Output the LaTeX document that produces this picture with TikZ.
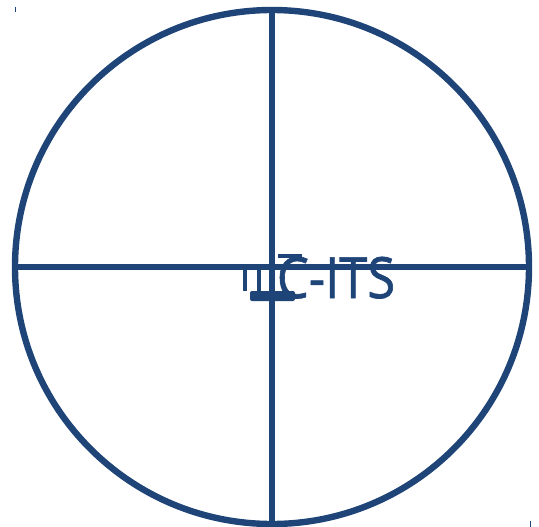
\documentclass[tikz,border=0pt]{standalone}
\usepackage{fontspec}
\setsansfont[FakeBold=1.2]{Open Sans}
\definecolor{logoblue}{RGB}{31,68,120}

\begin{document}
\begin{tikzpicture}[
    x=0.5mm, y=-0.5mm,
    font=\sffamily,
    % Style for the outer ring
    ring/.style={
        draw=logoblue,
        line width=3.2mm
    },
    % Style for the cross hairs
    hair/.style={
        draw=logoblue,
        line width=2.6mm
    },
    % Style for the small broken glyph strokes
    glyph/.style={
        draw=logoblue,
        line width=2mm
    }
]
\useasboundingbox (0,0) rectangle (539,527);

% --- Ring and cross ---
\coordinate (c) at (272,267);
\draw[ring] (c) circle [radius=257];
\coordinate (top) at (272,10);
\coordinate (bot) at (272,524);
\coordinate (lft) at (15,267);
\coordinate (rgt) at (529,267);
\draw[hair] (top) -- (bot);
\draw[hair] (lft) -- (rgt);

% --- Corner marks ---
\draw[logoblue, line width=0.5mm] (15,7) -- (15,12);
\draw[logoblue, line width=0.5mm] (530,521) -- (530,527);

% --- Label ---
\node[anchor=base, inner sep=0pt, text=logoblue, xscale=0.89,
      font=\sffamily\fontsize{81}{81}\selectfont] (label) at (336,298) {C-ITS};

% --- Broken glyph pieces ---
\draw[glyph] (245,267) -- (245,291);
\draw[glyph] (259,267) -- (259,291);
\draw[glyph] (278,256) -- (302,256);
\fill[logoblue, rounded corners=1mm] (250,291) rectangle (295,301);

\end{tikzpicture}
\end{document}
